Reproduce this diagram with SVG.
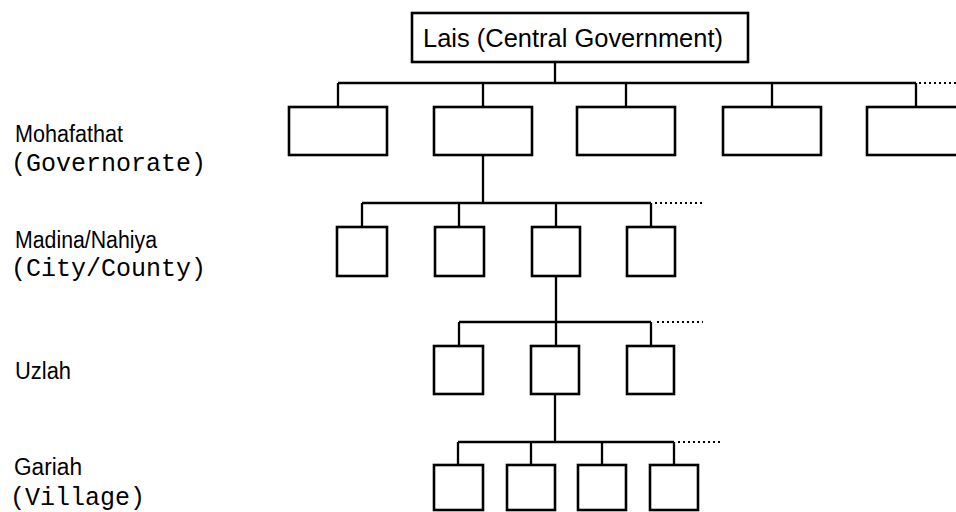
<svg xmlns="http://www.w3.org/2000/svg" width="956" height="512" viewBox="0 0 956 512">
<style>
.box{fill:#fff;stroke:#000;stroke-width:2.6}
.ln{fill:none;stroke:#000;stroke-width:2.3}
.dot{fill:none;stroke:#000;stroke-width:2;stroke-dasharray:2 3}
.nar{font-family:"Liberation Sans","DejaVu Sans",sans-serif;font-size:23px;fill:#000}
.top{font-family:"Liberation Sans","DejaVu Sans",sans-serif;font-size:26px;fill:#000}
.mono{font-family:"Liberation Mono","DejaVu Sans Mono",monospace;font-size:25px;fill:#000}
</style>
<rect width="956" height="512" fill="#fff"/>
<g id="connectors">
<path class="ln" d="M555 62V83M338 83H916M338 83V107M483 83V107M626 83V107M772 83V107M916 83V107"/>
<path class="dot" d="M919 83H956"/>
<path class="ln" d="M483 155V203M362 203H651M362 203V227M459 203V227M556 203V227M651 203V227"/>
<path class="dot" d="M655 203H702"/>
<path class="ln" d="M556 276V322M459 322H651M459 322V346M556 322V346M651 322V346"/>
<path class="dot" d="M657 322H703"/>
<path class="ln" d="M555 394V442M458 442H674M458 442V465M531 442V465M602 442V465M674 442V465"/>
<path class="dot" d="M678 442H721"/>
</g>
<g id="central">
<rect class="box" x="412" y="13" width="336" height="49"/>
<text class="top" x="423" y="47" textLength="300" lengthAdjust="spacingAndGlyphs">Lais (Central Government)</text>
</g>
<g id="governorates">
<rect id="gov1" class="box" x="289" y="107" width="98" height="48"/>
<rect id="gov2" class="box" x="434" y="107" width="98" height="48"/>
<rect id="gov3" class="box" x="577" y="107" width="98" height="48"/>
<rect id="gov4" class="box" x="723" y="107" width="98" height="48"/>
<rect id="gov5" class="box" x="867" y="107" width="98" height="48"/>
</g>
<g id="cities">
<rect id="city1" class="box" x="337" y="227" width="50" height="49"/>
<rect id="city2" class="box" x="435" y="227" width="49" height="49"/>
<rect id="city3" class="box" x="532" y="227" width="48" height="49"/>
<rect id="city4" class="box" x="627" y="227" width="48" height="49"/>
</g>
<g id="uzlahs">
<rect id="uz1" class="box" x="434" y="346" width="49" height="48"/>
<rect id="uz2" class="box" x="531" y="346" width="48" height="48"/>
<rect id="uz3" class="box" x="627" y="346" width="47" height="48"/>
</g>
<g id="villages">
<rect id="vil1" class="box" x="434" y="465" width="49" height="45"/>
<rect id="vil2" class="box" x="507" y="465" width="48" height="45"/>
<rect id="vil3" class="box" x="578" y="465" width="48" height="45"/>
<rect id="vil4" class="box" x="650" y="465" width="48" height="45"/>
</g>
<g id="level-labels">
<text class="nar" x="15" y="142" textLength="108" lengthAdjust="spacingAndGlyphs">Mohafathat</text>
<text class="mono" x="11" y="171">(Governorate)</text>
<text class="nar" x="15" y="248" textLength="142" lengthAdjust="spacingAndGlyphs">Madina/Nahiya</text>
<text class="mono" x="11" y="276">(City/County)</text>
<text class="nar" x="15" y="379" textLength="56" lengthAdjust="spacingAndGlyphs">Uzlah</text>
<text class="nar" x="14" y="475" textLength="68" lengthAdjust="spacingAndGlyphs">Gariah</text>
<text class="mono" x="10" y="505">(Village)</text>
</g>
</svg>
